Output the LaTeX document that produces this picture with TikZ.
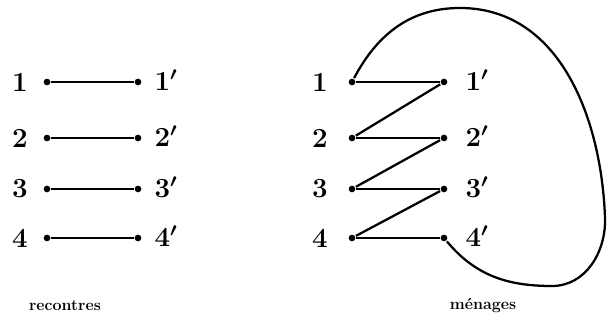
\documentclass[tikz,border=0pt]{standalone}
\usepackage{amsmath}
\usepackage{tikz}
\usetikzlibrary{arrows.meta, calc}

\tikzset{
  pt/.style={circle, fill, inner sep=0pt, minimum size=5pt},
  num/.style={font=\huge\bfseries},
  legend/.style={font=\large\bfseries},
}

\begin{document}
\begin{tikzpicture}[x=0.75pt, y=0.75pt, line width=1.7pt]
  \useasboundingbox (0,0) rectangle (607,323);
  % recontres
  \foreach \i/\y in {1/241, 2/185, 3/134, 4/85} {
    \node[num] (a\i) at (20,\y) {\i};
    \node[pt] (p\i) at (47,\y) {};
    \node[pt] (q\i) at (138,\y) {};
    \node[num] (b\i) at (166,\y+2) {$\boldsymbol{\i'}$};
    \draw (p\i) -- (q\i);
  }
  \node[legend] (rec) at (65,18) {recontres};
  % menages
  \foreach \i/\y in {1/241, 2/185, 3/134, 4/85} {
    \node[num] (c\i) at (320,\y) {\i};
    \node[pt] (l\i) at (352,\y) {};
    \node[pt] (r\i) at (444,\y) {};
    \node[num] (d\i) at (477,\y+2) {$\boldsymbol{\i'}$};
    \draw (l\i) -- (r\i);
  }
  \draw (r1) -- (l2);
  \draw (r2) -- (l3);
  \draw (r3) -- (l4);
  \coordinate (top) at (460,315);
  \coordinate (east) at (605,105);
  \coordinate (south) at (552,37);
  \draw (l1) to[out=62,in=180] (top) to[out=0,in=92] (east)
        to[out=-88,in=0] (south) to[out=180,in=-50] (r4);
  \node[legend] (men) at (483,18) {ménages};
\end{tikzpicture}
\end{document}
